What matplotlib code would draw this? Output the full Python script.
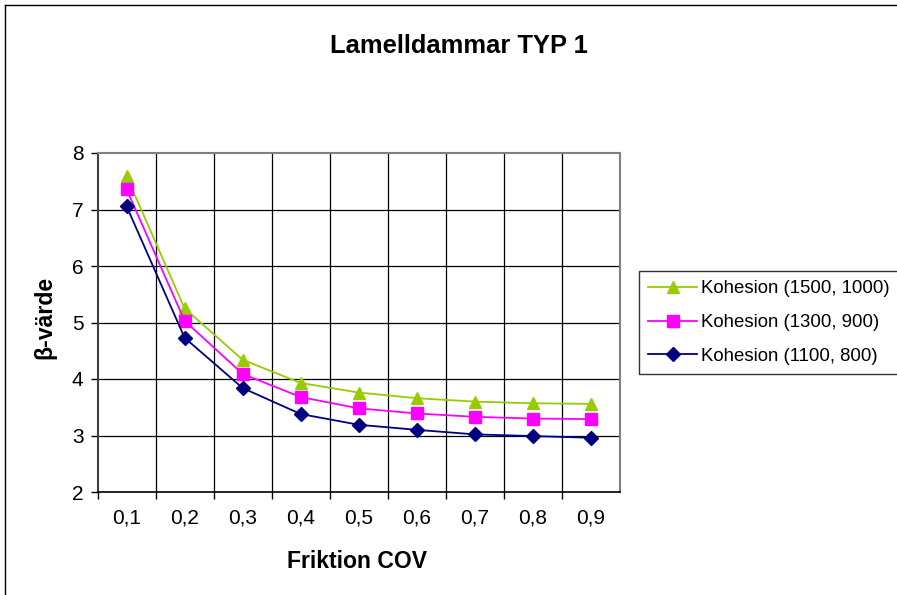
import numpy as np
import matplotlib.pyplot as plt

plt.rcParams['font.family'] = ['Liberation Sans', 'DejaVu Sans']

# friktion COV categories and beta values per kohesion case
categories = ['0,1', '0,2', '0,3', '0,4', '0,5', '0,6', '0,7', '0,8', '0,9']
beta_1500 = [7.59, 5.25, 4.34, 3.93, 3.76, 3.66, 3.60, 3.57, 3.56]
beta_1300 = [7.36, 5.03, 4.09, 3.68, 3.48, 3.39, 3.33, 3.30, 3.29]
beta_1100 = [7.06, 4.73, 3.84, 3.38, 3.19, 3.10, 3.02, 2.99, 2.96]

labels = ['Kohesion (1500, 1000)', 'Kohesion (1300, 900)', 'Kohesion (1100, 800)']
colors = ['#99CC00', '#FF00FF', '#000080']
markers = ['^', 's', 'D']
msizes = [9, 8, 7]

W, H = 897, 595
fig = plt.figure(figsize=(W / 100, H / 100), dpi=100)
fig.patch.set_facecolor('white')

# outer chart frame (runs off the right and bottom edges)
fig.add_artist(plt.Line2D([5 / W, 5 / W], [0, 1 - 5 / H], color='black', lw=1.0))
fig.add_artist(plt.Line2D([5 / W, 1], [1 - 5 / H, 1 - 5 / H], color='black', lw=1.0))

left, right, top, bottom = 97.5, 620, 153, 492
ax = fig.add_axes([left / W, 1 - bottom / H, (right - left) / W, (bottom - top) / H])

x = np.arange(len(categories))
for vals, lab, c, m, ms in zip([beta_1500, beta_1300, beta_1100], labels, colors, markers, msizes):
    ax.plot(x, vals, color=c, marker=m, markersize=ms, lw=1.3, label=lab,
            markeredgecolor=c, markerfacecolor=c)

ax.set_xlim(-0.5, len(categories) - 0.5)
ax.set_ylim(2, 8)
ax.set_yticks(range(2, 9))
ax.set_yticklabels([str(v) for v in range(2, 9)], fontsize=15)

# gridlines between categories, labels centered on categories
ax.set_xticks(x - 0.5, minor=False)
ax.set_xticklabels([''] * len(categories))
ax.set_xticks(x, minor=True)
ax.set_xticklabels(categories, minor=True, fontsize=15)
ax.tick_params(axis='x', which='minor', length=0, pad=12)
ax.tick_params(axis='x', which='major', length=5, width=1, color='black', direction='out')
ax.tick_params(axis='y', length=5, width=1, color='black', direction='out', pad=5)

for xb in np.arange(0.5, len(categories) - 0.5, 1):
    ax.axvline(xb, color='black', lw=0.9, zorder=0)
for yv in range(3, 8):
    ax.axhline(yv, color='black', lw=0.9, zorder=0)

for side in ['top', 'right']:
    ax.spines[side].set_color('#808080')
    ax.spines[side].set_linewidth(1.5)
ax.spines['left'].set_color('#404040')
ax.spines['left'].set_linewidth(1.5)
ax.spines['bottom'].set_color('black')
ax.spines['bottom'].set_linewidth(1.2)

fig.text(459 / W, 1 - 46 / H, 'Lamelldammar TYP 1', ha='center', va='center',
         fontsize=18.4, fontweight='bold')
fig.text(357.5 / W, 1 - 561 / H, 'Friktion COV', ha='center', va='center',
         fontsize=16.6, fontweight='bold')
fig.text(45 / W, 1 - 317.5 / H, 'β-värde', ha='center', va='center',
         fontsize=16.6, fontweight='bold', rotation=90)

leg = fig.legend(loc='upper left', bbox_to_anchor=(639 / W, 1 - 271 / H),
                 fontsize=13.4, frameon=True, fancybox=False, borderpad=0.5,
                 handlelength=2.6, handletextpad=0.25, labelspacing=0.9,
                 borderaxespad=0)
leg.get_frame().set_edgecolor('black')
leg.get_frame().set_linewidth(1.0)

fig.savefig('out.png', dpi=100)
